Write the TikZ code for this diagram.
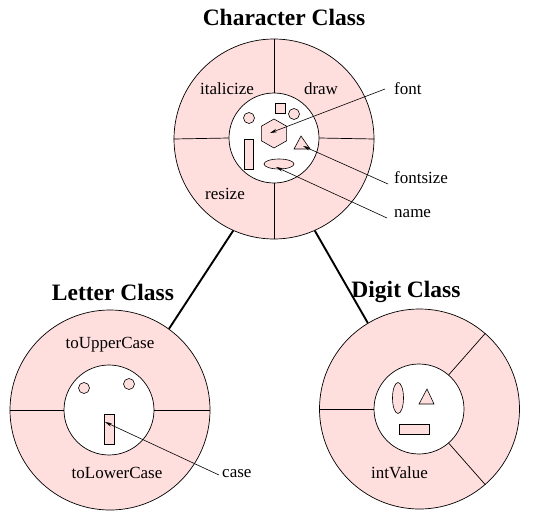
\documentclass[tikz,border=0pt]{standalone}
\usepackage{fontspec}
\setmainfont{Liberation Serif}
\usetikzlibrary{arrows.meta}
\definecolor{pinkfill}{RGB}{255,222,222}
\tikzset{
  outerring/.style={circle,draw=black,line width=0.7pt,fill=pinkfill,minimum size=200pt,inner sep=0pt},
  innerhole/.style={circle,draw=black,line width=0.7pt,fill=white,minimum size=90pt,inner sep=0pt},
  divider/.style={draw=black,line width=0.7pt},
  shapefill/.style={draw=black,line width=0.6pt,fill=pinkfill},
  title/.style={font=\bfseries\fontsize{23.5}{27}\selectfont,inner sep=0pt},
  lbl/.style={font=\fontsize{17}{19}\selectfont,inner sep=0pt},
  pointer/.style={draw=black,line width=0.6pt,-{Stealth[length=7pt,width=3.5pt]}},
  link/.style={draw=black,line width=1.9pt}
}
\begin{document}
\begin{tikzpicture}[x=1pt,y=-1pt]
\useasboundingbox (0,0) rectangle (541,531);

% ---------- Character Class ----------
\node[title] (chartitle) at (284,17) {Character Class};
\node[outerring] (char) at (274,139) {};
\node[innerhole] (charin) at (274,138) {};
\draw[divider] (char.north) -- (charin.north);
\draw[divider] (char.south) -- (charin.south);
\draw[divider] (char.west) -- (charin.west);
\draw[divider] (char.east) -- (charin.east);
\node[lbl] (italicize) at (227,89) {italicize};
\node[lbl] (draw) at (321,89) {draw};
\node[lbl] (resize) at (225,194) {resize};
% shapes inside
\draw[shapefill] (275,103) rectangle (285,113);
\draw[shapefill] (294,114) circle (5.5);
\draw[shapefill] (249,118) circle (5.5);
\draw[shapefill] (274,119) -- (286.6,126.2) -- (286.6,140.8) -- (274,148) -- (261.4,140.8) -- (261.4,126.2) -- cycle;
\draw[shapefill] (301,136) -- (310,149) -- (294,149) -- cycle;
\draw[shapefill] (244,139) rectangle (253,169);
\draw[shapefill] (279,164) ellipse (15 and 5);
\coordinate (hexpt) at (270,133);
\coordinate (tript) at (303,146);
\coordinate (ellpt) at (276,167);
\node[lbl,anchor=west] (font) at (394,89) {font};
\node[lbl,anchor=west] (fontsize) at (394,178) {fontsize};
\node[lbl,anchor=west] (name) at (394,214) {name};
\coordinate (fontstart) at (385,89);
\coordinate (sizestart) at (388,184);
\coordinate (namestart) at (387,218);
\draw[pointer] (fontstart) -- (hexpt);
\draw[pointer] (sizestart) -- (tript);
\draw[pointer] (namestart) -- (ellpt);

% ---------- Letter Class ----------
\node[title] (lettertitle) at (113,292) {Letter Class};
\node[outerring] (letter) at (110,410) {};
\node[innerhole] (letterin) at (109,410) {};
\draw[divider] (letter.west) -- (letterin.west);
\draw[divider] (letterin.east) -- (letter.east);
\node[lbl] (toupper) at (110,345) {toUpperCase};
\node[lbl] (tolower) at (117,473) {toLowerCase};
\draw[shapefill] (84,388) circle (5.5);
\draw[shapefill] (129,384) circle (5.5);
\draw[shapefill] (104,414) rectangle (114,444);
\coordinate (casept) at (105,422);
\node[lbl,anchor=west] (case) at (222,474) {case};
\coordinate (casestart) at (219,475);
\draw[pointer] (casestart) -- (casept);

% ---------- Digit Class ----------
\node[title] (digittitle) at (406,292) {Digit Class};
\node[outerring] (digit) at (419.5,409) {};
\node[innerhole] (digitin) at (419,409) {};
\draw[divider] (digit.west) -- (digitin.west);
\draw[divider] (digitin.49) -- (digit.49);
\draw[divider] (digitin.-49) -- (digit.-49);
\node[lbl] (intvalue) at (399.5,473) {intValue};
\draw[shapefill] (398,398) ellipse (5.5 and 15.5);
\draw[shapefill] (427,389) -- (434,404) -- (419,404) -- cycle;
\draw[shapefill] (399,424) rectangle (429,434);

% ---------- links ----------
\draw[link] (char.-114) -- (letter.54);
\draw[link] (char.-66) -- (digit.121);
\end{tikzpicture}
\end{document}
